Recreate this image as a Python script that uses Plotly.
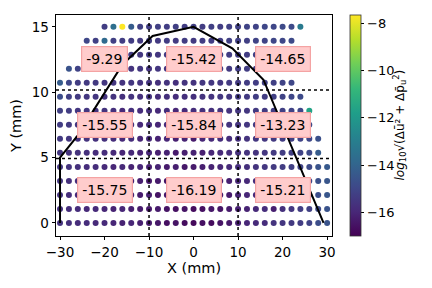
import plotly.graph_objects as go

# ---- data ----
y_rows = [0.0, 1.071, 2.143, 3.214, 4.286, 5.357, 6.429, 7.5, 8.571, 9.643,
          10.714, 11.786, 12.857, 13.929, 15.0]
row_first_x = [-30, -30, -30, -30, -30, -30, -30, -30, -30, -30, -30, -28, -24, -24, -20]
x_step = 2

z_rows = [
    [-15.6,-15.7,-15.8,-15.8,-15.9,-15.9,-16.0,-16.1,-16.0,-16.2,-16.3,-16.4,-16.6,-16.5,-16.7,-16.8,-16.6,-16.7,-16.5,-16.4,-16.2,-16.0,-15.9,-15.8,-15.6,-15.5,-15.4,-15.3,-15.1,-14.8,-14.6],
    [-15.7,-15.8,-15.8,-15.9,-15.9,-16.0,-16.1,-16.0,-16.2,-16.3,-16.4,-16.3,-16.5,-16.6,-16.5,-16.7,-16.6,-16.4,-16.5,-16.3,-16.2,-16.1,-15.9,-15.8,-16.2,-15.7,-15.5,-15.3,-15.2,-14.9,-14.6],
    [-15.6,-15.8,-15.9,-15.8,-16.0,-16.0,-16.1,-16.2,-16.1,-16.3,-16.2,-16.5,-16.4,-16.6,-16.7,-16.5,-16.6,-16.5,-16.4,-16.3,-16.1,-16.0,-15.9,-15.7,-15.6,-15.5,-15.4,-15.3,-15.0,-14.8,-14.5],
    [-15.5,-15.7,-15.8,-15.9,-15.9,-16.0,-16.0,-16.1,-16.2,-16.2,-16.4,-16.3,-16.5,-16.4,-16.6,-16.5,-16.4,-16.6,-16.3,-16.2,-16.0,-15.9,-15.8,-15.7,-15.6,-15.4,-15.3,-15.2,-15.0,-14.7,-14.5],
    [-15.5,-15.6,-15.7,-15.8,-15.8,-15.9,-16.0,-15.9,-16.1,-16.0,-16.2,-16.1,-16.3,-16.2,-16.4,-16.3,-16.2,-16.1,-16.0,-15.9,-15.8,-15.7,-15.6,-15.5,-15.4,-15.3,-15.2,-15.1,-14.9,-14.6,-14.4],
    [-15.5,-15.6,-15.6,-15.7,-15.8,-15.8,-15.9,-16.0,-15.9,-16.1,-16.0,-16.2,-16.1,-16.3,-16.2,-16.1,-16.2,-16.0,-15.9,-15.8,-15.7,-15.6,-15.6,-15.5,-15.4,-15.3,-15.2,-15.1,-14.9,-14.3],
    [-15.4,-15.5,-15.6,-15.6,-15.7,-15.7,-15.8,-15.9,-15.8,-16.0,-15.9,-16.1,-16.0,-16.2,-16.1,-16.3,-16.0,-15.9,-15.8,-15.8,-15.7,-15.6,-15.5,-15.5,-15.4,-15.3,-15.2,-15.1,-15.0,-14.7],
    [-15.3,-15.4,-15.5,-15.6,-15.6,-15.7,-15.6,-15.8,-15.7,-15.9,-15.8,-16.0,-15.9,-16.1,-16.0,-15.9,-15.8,-15.8,-15.7,-15.6,-15.6,-15.5,-15.4,-15.4,-15.3,-15.2,-15.1,-15.0,-14.9],
    [-15.2,-15.3,-15.5,-15.5,-15.6,-15.6,-15.7,-15.9,-15.7,-15.8,-15.7,-15.9,-15.8,-16.0,-15.9,-15.8,-15.7,-15.7,-15.6,-15.6,-15.5,-15.5,-15.4,-15.4,-15.3,-15.2,-15.1,-15.0,-11.6],
    [-14.8,-15.2,-15.4,-15.5,-15.5,-15.6,-15.6,-15.7,-15.6,-15.7,-15.6,-15.8,-15.7,-15.8,-15.7,-15.7,-15.6,-15.6,-15.5,-15.5,-15.4,-15.4,-15.3,-15.3,-15.2,-15.1,-15.0,-14.9],
    [-14.3,-15.0,-15.3,-15.4,-15.4,-15.5,-15.5,-15.6,-15.5,-15.6,-15.6,-15.7,-15.6,-15.7,-15.6,-15.6,-15.5,-15.5,-15.5,-15.4,-15.4,-15.3,-15.3,-15.2,-15.2,-15.1,-15.0],
    [-14.6,-15.1,-15.3,-15.4,-15.4,-15.5,-15.5,-15.6,-15.5,-15.6,-15.5,-15.6,-15.5,-15.6,-15.5,-15.5,-15.4,-15.4,-15.4,-15.3,-15.3,-15.3,-15.2,-15.2,-15.1,-15.0],
    [-14.9,-15.2,-15.3,-15.3,-15.4,-15.4,-15.5,-15.4,-15.5,-15.4,-15.5,-15.4,-15.5,-15.4,-15.4,-15.4,-15.3,-15.3,-15.3,-15.2,-15.2,-15.1,-15.1,-15.0],
    [-15.0,-15.2,-13.8,-15.2,-15.3,-15.3,-15.4,-15.3,-15.4,-15.3,-15.4,-15.3,-15.4,-15.3,-15.3,-15.3,-15.2,-15.2,-15.2,-15.1,-15.1,-15.0,-15.0,-14.9],
    [-15.3,-13.6,-7.66,-14.3,-15.2,-15.3,-15.2,-15.3,-15.2,-15.3,-15.2,-15.3,-15.2,-15.3,-15.2,-15.2,-15.1,-15.1,-15.0,-15.0,-14.9,-14.9,-13.15],
]

line_x = [-30, -30, -26, -16, -9.2, 0, 8.7, 15.7, 29.2]
line_y = [0, 5, 6.7, 12.1, 14.3, 15, 13.35, 10.95, 0]

split_x = [-10, 10]
split_y = [4.93, 10.17]

label_x = [-20, 0, 20]
label_y = [12.5, 7.5, 2.5]
label_text = [["-9.29", "-15.42", "-14.65"],
              ["-15.55", "-15.84", "-13.23"],
              ["-15.75", "-16.19", "-15.21"]]

c_min, c_max = -17.0, -7.66
cbar_ticks = [-8, -10, -12, -14, -16]

# ---- build points ----
px, py, pz = [], [], []
for yv, x0, zr in zip(y_rows, row_first_x, z_rows):
    for i, zv in enumerate(zr):
        px.append(x0 + x_step * i)
        py.append(yv)
        pz.append(zv)

FONT = "DejaVu Sans"
# page body has an 8px default margin: compensate so the plot lands where the reference has it
OFF = 8
W, H = 432 - OFF, 288 - OFF
L, T = 56 - OFF, 15 - OFF
PW, PH = 276, 221
R, B = W - L - PW, H - T - PH

fig = go.Figure()
fig.add_trace(go.Scatter(
    x=px, y=py, mode="markers",
    marker=dict(size=6, color=pz, colorscale="Viridis", cmin=c_min, cmax=c_max,
                line=dict(width=0),
                colorbar=dict(x=(350 - 56) / PW, xanchor="left", xpad=0, ypad=0,
                              y=0.5, yanchor="middle", len=1, lenmode="fraction",
                              thickness=11, outlinewidth=0.8, outlinecolor="#333",
                              tickvals=cbar_ticks, ticktext=["\u2212" + str(abs(t)) for t in cbar_ticks],
                              ticks="outside", ticklen=3.5, tickwidth=0.8, tickcolor="black",
                              tickfont=dict(family=FONT, size=13, color="black"))),
    showlegend=False, hoverinfo="skip"))

fig.add_trace(go.Scatter(x=line_x, y=line_y, mode="lines",
                         line=dict(color="black", width=2), showlegend=False))

shapes = []
for xv in split_x:
    shapes.append(dict(type="line", xref="x", yref="paper", x0=xv, x1=xv, y0=0, y1=1,
                       line=dict(color="black", width=1.5, dash="dot")))
for yv in split_y:
    shapes.append(dict(type="line", xref="paper", yref="y", x0=0, x1=1, y0=yv, y1=yv,
                       line=dict(color="black", width=1.5, dash="dot")))

annotations = []
for r, yv in enumerate(label_y):
    for c, xv in enumerate(label_x):
        annotations.append(dict(x=xv, y=yv, xref="x", yref="y", text=label_text[r][c],
                                showarrow=False, font=dict(family=FONT, size=14, color="black"),
                                bgcolor="#ffcccc", bordercolor="#f4a3a3", borderwidth=1.2,
                                borderpad=4))
annotations.append(dict(x=(410 - 56) / PW, y=0.5, xref="paper", yref="paper",
                        text="<i>log</i><sub>10</sub>\u221a(\u0394\u016b\u00b2 + \u0394p\u0304<sub>u</sub><sup>2</sup>)",
                        textangle=-90, showarrow=False,
                        font=dict(family=FONT, size=12, color="black")))

axis_common = dict(showline=True, linecolor="black", linewidth=0.8, mirror=True,
                   ticks="outside", ticklen=3.5, tickwidth=0.8, tickcolor="black",
                   showgrid=False, zeroline=False, automargin=False,
                   tickfont=dict(family=FONT, size=13.5, color="black"))

fig.update_layout(
    width=W, height=H,
    margin=dict(l=L, r=R, t=T, b=B, autoexpand=False),
    paper_bgcolor="white", plot_bgcolor="white",
    shapes=shapes, annotations=annotations,
    xaxis=dict(range=[-30.9, 31.1], tickvals=[-30, -20, -10, 0, 10, 20, 30],
               ticktext=["\u221230", "\u221220", "\u221210", "0", "10", "20", "30"],
               title=dict(text="X (mm)", font=dict(family=FONT, size=14.5, color="black"), standoff=3),
               **axis_common),
    yaxis=dict(range=[-1.0, 15.9], tickvals=[0, 5, 10, 15],
               title=dict(text="Y (mm)", font=dict(family=FONT, size=14.5, color="black"), standoff=8),
               **axis_common),
)

fig.write_html("out.html")
